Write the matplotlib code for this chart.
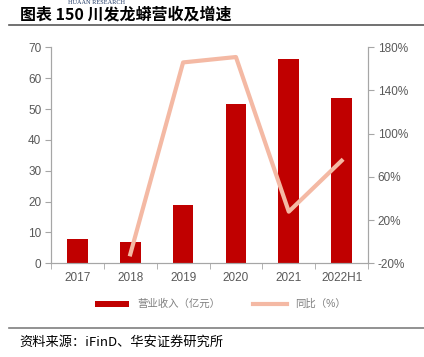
import numpy as np
import matplotlib
matplotlib.use("Agg")
import matplotlib.pyplot as plt
from matplotlib.ticker import FuncFormatter

plt.rcParams['font.family'] = ['Liberation Sans', 'Noto Sans CJK SC', 'DejaVu Sans']

years = ["2017", "2018", "2019", "2020", "2021", "2022H1"]
revenue = [7.8, 6.9, 18.9, 51.6, 66.2, 53.5]
growth = [np.nan, -11.7, 166.0, 171.0, 27.8, 75.0]

bar_color = "#C00000"
line_color = "#F4B9A4"
axis_gray = "#A6A6A6"
text_gray = "#595959"

fig = plt.figure(figsize=(4.24, 3.57), dpi=100)
ax = fig.add_axes([0.1203, 0.2625, 0.7477, 0.605])
ax2 = ax.twinx()

x = np.arange(len(years))
ax.bar(x, revenue, width=0.39, color=bar_color, zorder=2, label="营业收入（亿元）")
ax2.plot(x, growth, color=line_color, lw=3, zorder=3, label="同比（%）")

ax.set_xlim(-0.5, len(years) - 0.5)
ax.set_ylim(0, 70)
ax.set_yticks(range(0, 71, 10))
ax2.set_ylim(-20, 180)
ax2.set_yticks(range(-20, 181, 40))
ax2.yaxis.set_major_formatter(FuncFormatter(lambda v, p: f"{v:.0f}%"))

ax.set_xticks(x)
ax.set_xticklabels(years)
ax.set_xticks(np.arange(-0.5, len(years), 1), minor=True)
ax.tick_params(axis="x", which="major", length=0, pad=6)
ax.tick_params(axis="x", which="minor", length=4, color=axis_gray, direction="out")

for a in (ax, ax2):
    a.spines["top"].set_visible(False)
    for s in ("left", "right", "bottom"):
        a.spines[s].set_color(axis_gray)
    a.tick_params(axis="y", length=4, color=axis_gray, labelsize=8.5, labelcolor=text_gray, pad=3)
ax.tick_params(axis="x", labelsize=8.5, labelcolor=text_gray)

# legend
h1, l1 = ax.get_legend_handles_labels()
h2, l2 = ax2.get_legend_handles_labels()
fig.legend(h1 + h2, l1 + l2, loc="center", bbox_to_anchor=(0.52, 0.148), ncol=2,
           frameon=False, fontsize=7.5, handlelength=3.2, handleheight=0.5,
           columnspacing=3.2, labelcolor="#7F7F7F")

# title, separators, source
fig.text(0.047, 0.96, "图表 150 川发龙蟒营收及增速", fontsize=11.5, fontweight="bold",
         va="center", ha="left", color="black",
         family=['Noto Sans CJK SC', 'DejaVu Sans'])
fig.text(0.16, 0.992, "HUAAN RESEARCH", fontsize=4.5, va="center", ha="left",
         color="#1F3864", family="Liberation Serif")
fig.add_artist(plt.Line2D([0.021, 1.0], [0.93, 0.93], color="#595959", lw=1.2))
fig.add_artist(plt.Line2D([0.021, 1.0], [0.081, 0.081], color="#7F7F7F", lw=1.2))
fig.text(0.045, 0.042, "资料来源：iFinD、华安证券研究所", fontsize=9.5, va="center", ha="left",
         color="black", family=['Noto Sans CJK SC', 'DejaVu Sans'])

fig.savefig("out.png", dpi=100)
